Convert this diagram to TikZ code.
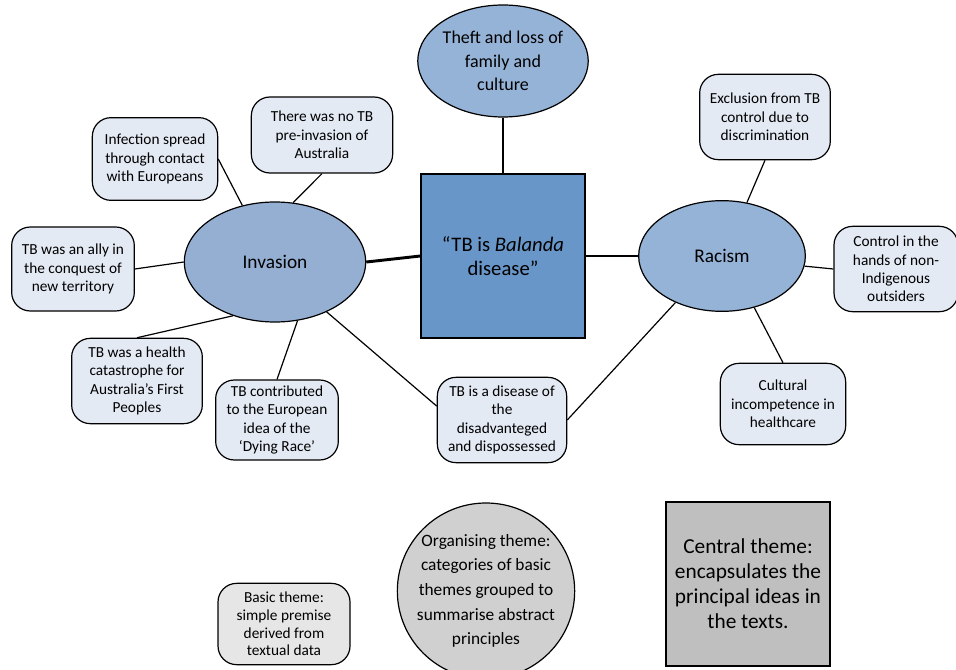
\documentclass[tikz,border=0pt]{standalone}
\usepackage{fontspec}
\setmainfont{Carlito}
\usetikzlibrary{shapes,shapes.geometric,positioning,calc}
\definecolor{themeblue}{RGB}{149,179,215}
\definecolor{invblue}{RGB}{149,175,211}
\definecolor{centreblue}{RGB}{105,150,200}
\definecolor{basicfill}{RGB}{228,234,244}
\definecolor{legendlight}{RGB}{230,230,230}
\definecolor{legendmid}{RGB}{208,208,208}
\definecolor{legenddark}{RGB}{191,191,191}

\begin{document}
\begin{tikzpicture}[x=0.75pt,y=-0.75pt,
    basic/.style={draw, line width=0.9pt, fill=basicfill, rounded corners=14pt, align=center, inner sep=0pt,
        font=\fontsize{11.5}{13.8}\selectfont},
    orgtheme/.style={draw, line width=0.9pt, ellipse, fill=themeblue, align=center, inner sep=0pt,
        font=\fontsize{14.5}{17.5}\selectfont},
    link/.style={line width=0.9pt},
    bold link/.style={line width=2.2pt}]
    \useasboundingbox (0,0) rectangle (956,670);

    \node[draw, line width=0.9pt, fill=centreblue, minimum width=123pt, minimum height=123pt, align=center,
        font=\fontsize{15.5}{17.5}\selectfont] (ctr) at (503,256) {“TB is \textit{Balanda}\\disease”};
    \node[orgtheme, minimum width=125pt, minimum height=84pt, font=\fontsize{13.5}{17.5}\selectfont]
        (theft) at (503,61) {Theft and loss of\\family and\\culture};
    \node[orgtheme, fill=invblue, minimum width=136pt, minimum height=90pt] (inv) at (275,262) {Invasion};
    \node[orgtheme, minimum width=125pt, minimum height=83pt] (rac) at (722,256) {Racism};

    \node[basic, minimum width=94pt, minimum height=62pt] (infect) at (155,159) {Infection spread\\through contact\\with Europeans};
    \node[basic, minimum width=106pt, minimum height=57pt] (notb) at (322,135) {There was no TB\\pre-invasion of\\Australia};
    \node[basic, minimum width=92pt, minimum height=63pt] (ally) at (73,269) {TB was an ally in\\the conquest of\\new territory};
    \node[basic, minimum width=98pt, minimum height=64pt] (health) at (137,381) {TB was a health\\catastrophe for\\Australia’s First\\Peoples};
    \node[basic, minimum width=92pt, minimum height=60pt] (dying) at (277,420) {TB contributed\\to the European\\idea of the\\‘Dying Race’};
    \node[basic, minimum width=97pt, minimum height=64pt] (disadv) at (502,420) {TB is a disease of\\the\\disadvanteged\\and dispossessed};
    \node[basic, minimum width=98pt, minimum height=64pt] (excl) at (765,117) {Exclusion from TB\\control due to\\discrimination};
    \node[basic, minimum width=93pt, minimum height=64pt] (control) at (896,269) {Control in the\\hands of non-\\Indigenous\\outsiders};
    \node[basic, minimum width=94pt, minimum height=61pt] (cult) at (783,404) {Cultural\\incompetence in\\healthcare};

    \draw[bold link] (theft) -- (ctr);
    \draw[bold link] (inv.east) -- (ctr.west);
    \draw[bold link] (ctr.east) -- (rac.west);

    \draw[link] (inv.120) -- (infect.east);
    \draw[link] (inv.73) -- (notb.south);
    \draw[link] (inv.west) -- (ally.east);
    \draw[link] (inv.232) -- (health.north);
    \draw[link] (inv.291) -- (dying.north);
    \draw[link] (inv.-44) -- (disadv.168);
    \draw[link] (rac.225) -- (disadv.east);
    \draw[link] (rac.65) -- (excl.south);
    \draw[link] (rac.353) -- (control.west);
    \draw[link] (rac.302) -- (cult.north);

    % Legend
    \node[basic, fill=legendlight, minimum width=99pt, minimum height=61pt, font=\fontsize{11.5}{13.2}\selectfont]
        (basickey) at (284,624) {Basic theme:\\simple premise\\derived from\\textual data};
    \node[orgtheme, fill=legendmid, minimum width=133pt, minimum height=132pt,
        label={[align=center, font=\fontsize{13}{18.5}\selectfont]center:{Organising theme:\\categories of basic\\themes grouped to\\summarise abstract\\principles}}]
        (orgkey) at (486,591) {};
    \node[draw, line width=0.9pt, fill=legenddark, minimum width=123pt, minimum height=123pt, align=center,
        font=\fontsize{16}{18.7}\selectfont] (ctrkey) at (748,584) {Central theme:\\encapsulates the\\principal ideas in\\the texts.};
\end{tikzpicture}
\end{document}
